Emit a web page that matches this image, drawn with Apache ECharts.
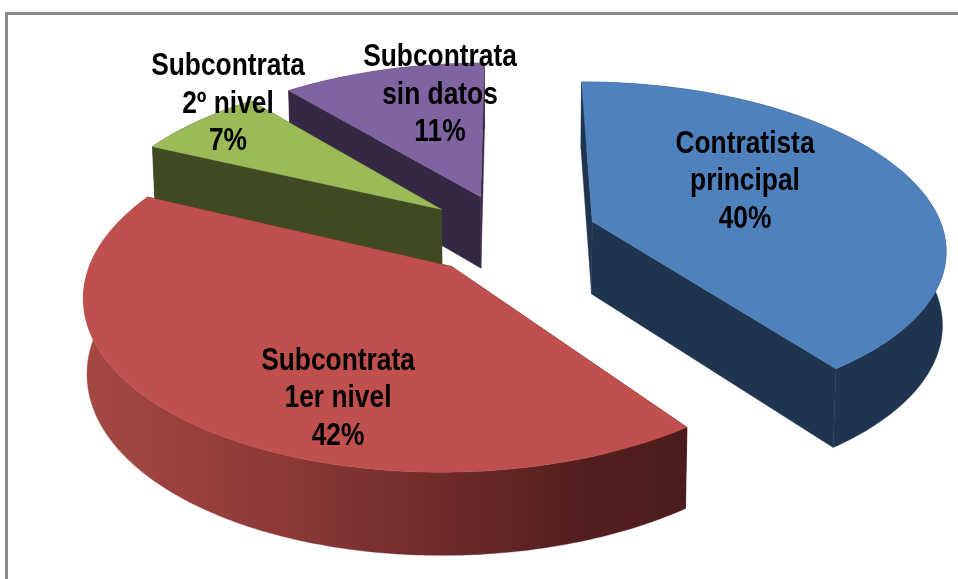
<!DOCTYPE html>
<html>
<head>
<meta charset="utf-8">
<style>html,body{margin:0;padding:0;background:#fff}#c{width:958px;height:579px}</style>
<script src="https://cdn.jsdelivr.net/npm/echarts@6/dist/echarts.min.js"></script>
</head>
<body>
<div id="c"></div>
<script>
// ---- data ----
const categories = ['Contratista\nprincipal', 'Subcontrata\n1er nivel', 'Subcontrata\n2º nivel', 'Subcontrata\nsin datos'];
const values = [40, 42, 7, 11];

// ---- style ----
const topColors = ['#4F81BD', '#C0504D', '#9BBB59', '#8064A2'];
const wallColors = ['#1F344F', '#4A1C1B', '#3F4A22', '#342842'];
const labelCenters = [[745, 181.5], [338, 398.5], [228, 104], [440, 95]];
const drawOrder = [3, 2, 0, 1];

// ---- projection of the tilted pie plane onto the screen ----
const CX = 509.5, CY = 234, EXPLODE = 0.25, PERSP = 0.15;
const TOP = { dy: 0, a: 352, b: 164 };
const BOTTOM = { dy: 73, a: 349, b: 171 };
function project(X, Y, plane) {
  const d = 1 - PERSP * Y;
  return [CX + plane.a * X / d, CY + plane.dy + plane.b * Y / d];
}

const total = values.reduce((s, v) => s + v, 0);
const rad = v => v / total * Math.PI * 2;
const starts = values.map((_, i) => values.slice(0, i).reduce((s, v) => s + rad(v), 0));

function sliceGeometry(i) {
  const a0 = starts[i], a1 = a0 + rad(values[i]), mid = (a0 + a1) / 2;
  const ox = EXPLODE * Math.sin(mid), oy = -EXPLODE * Math.cos(mid);
  const steps = Math.max(8, Math.round((a1 - a0) / 0.015));
  const rim = [];
  for (let k = 0; k <= steps; k++) {
    const t = a0 + (a1 - a0) * k / steps;
    rim.push([ox + Math.sin(t), oy - Math.cos(t)]);
  }
  return { apex: [ox, oy], rim };
}

function poly(points, fill, z) {
  return {
    type: 'polygon', z2: z, silent: true,
    shape: { points },
    style: { fill: fill, stroke: fill, lineWidth: 0.4 }
  };
}

const redWall = new echarts.graphic.LinearGradient(90, 0, 690, 0, [
  { offset: 0, color: '#A44844' },
  { offset: 0.3, color: '#8E3A38' },
  { offset: 0.55, color: '#722D2C' },
  { offset: 0.8, color: '#55201F' },
  { offset: 1, color: '#4A1C1B' }
], true);

function renderSlice(params, api) {
  const i = api.value(0);
  const g = sliceGeometry(i);
  const p = (pt, plane) => project(pt[0], pt[1], plane);
  const topRim = g.rim.map(pt => p(pt, TOP));
  const botRim = g.rim.map(pt => p(pt, BOTTOM));
  const apexT = p(g.apex, TOP), apexB = p(g.apex, BOTTOM);
  const n = topRim.length - 1;
  const outerFill = i === 1 ? redWall : wallColors[i];
  const base = drawOrder.indexOf(i) * 10;
  const children = [
    poly([apexT, topRim[0], botRim[0], apexB], wallColors[i], base + 1),
    poly([apexT, topRim[n], botRim[n], apexB], wallColors[i], base + 1),
    poly(topRim.concat(botRim.slice().reverse()), outerFill, base + 2),
    poly([apexT].concat(topRim), topColors[i], base + 3)
  ];
  return { type: 'group', children };
}

function renderLabel(params, api) {
  const i = api.value(0);
  const c = labelCenters[i];
  return {
    type: 'text', z2: 100, silent: true,
    x: c[0], y: c[1], scaleX: 0.85,
    style: {
      text: categories[i] + '\n' + values[i] + '%',
      fontFamily: '"Liberation Sans", sans-serif',
      fontWeight: 'bold', fontSize: 31, lineHeight: 37.5,
      align: 'center', verticalAlign: 'middle', fill: '#000'
    }
  };
}

const chart = echarts.init(document.getElementById('c'), null, { renderer: 'canvas' });
const rows = values.map((v, i) => [i, v]);
chart.setOption({
  animation: false,
  backgroundColor: '#fff',
  graphic: [{
    type: 'rect', silent: true,
    shape: { x: 6.5, y: 13.5, width: 1200, height: 1200 },
    style: { fill: 'none', stroke: '#8A8A8A', lineWidth: 3 }
  }],
  series: [
    { type: 'custom', coordinateSystem: 'none', data: drawOrder.map(i => rows[i]), renderItem: renderSlice, z: 2 },
    { type: 'custom', coordinateSystem: 'none', data: rows, renderItem: renderLabel, z: 3 }
  ]
});
</script>
</body>
</html>
